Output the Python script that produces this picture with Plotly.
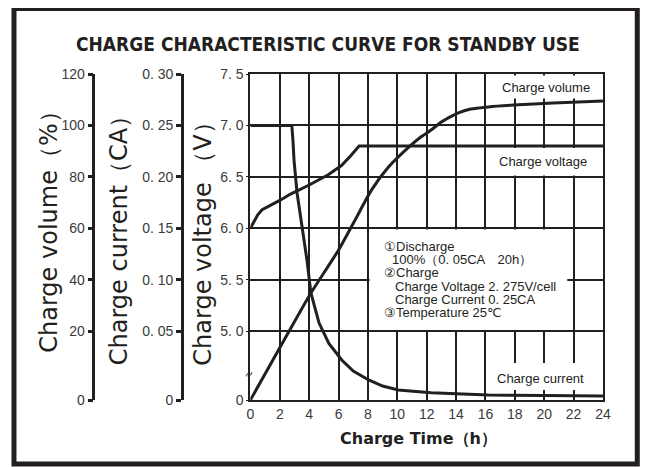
import numpy as np
import plotly.graph_objects as go

# ---------------- data ----------------
t_volume = [0, 2.64, 4.12, 6.0, 7.2, 8.25, 9.4, 10.95, 11.6, 12.3, 13.0, 13.7, 14.2, 15.0, 16.2, 17.9, 20.6, 24]
volume_pct = [0, 20, 34.8, 51.5, 64.0, 74.9, 83.8, 92.4, 95.5, 98.2, 101.3, 103.6, 105.0, 106.4, 107.2, 107.9, 108.7, 109.5]

t_voltage = [0, 0.25, 0.5, 0.8, 1.5, 2.0, 2.7, 4.0, 5.3, 6.2, 6.8, 7.4, 24]
voltage_v = [6.00, 6.07, 6.13, 6.18, 6.23, 6.27, 6.33, 6.42, 6.52, 6.61, 6.70, 6.80, 6.80]

t_current = [0, 2.82, 2.90, 2.97, 3.18, 3.52, 3.85, 4.12, 4.67, 5.34, 6.22, 7.0, 8.05, 9.0, 10.07, 12.3, 14.0, 16.2, 20.0, 24]
current_ca = [0.25, 0.25, 0.235, 0.216, 0.184, 0.151, 0.119, 0.087, 0.058, 0.041, 0.029, 0.021, 0.0145,
              0.0101, 0.0072, 0.0052, 0.0045, 0.0036, 0.0032, 0.0029]

x_ticks = list(range(0, 25, 2))
volume_ticks = [0, 20, 40, 60, 80, 100, 120]
volume_tick_labels = ["0", "20", "40", "60", "80", "100", "120"]
current_ticks = [0, 0.05, 0.10, 0.15, 0.20, 0.25, 0.30]
current_tick_labels = ["0", "0. 05", "0. 10", "0. 15", "0. 20", "0. 25", "0. 30"]
voltage_ticks = [0, 5.0, 5.5, 6.0, 6.5, 7.0, 7.5]
voltage_tick_labels = ["0", "5. 0", "5. 5", "6. 0", "6. 5", "7. 0", "7. 5"]

# ---------------- broken value axes (gap between 0 and first tick) ----------------
G0 = -0.342   # grid position of the "0" tick (axis break below first tick)


def to_grid(vals, ticks):
    return np.interp(vals, [ticks[0], ticks[1], ticks[-1]], [G0, 1, len(ticks) - 1])


# ---------------- geometry (page has an 8px body margin) ----------------
OFF = 8
W, H = 642, 459
ML, MT = 0, 74 - OFF
PLOT_R, PLOT_B = 603 - OFF, 400 - OFF
MR, MB = W - PLOT_R, H - PLOT_B
PW, PH = W - ML - MR, H - MT - MB
PLOT_LEFT = 248


def px(x):          # screen x -> paper
    return (x - OFF - ML) / PW


def py(y):          # screen y -> paper
    return (MT + PH - (y - OFF)) / PH


INK = "#231f20"
TICKC = "#3a3a3a"
SANS = "Liberation Sans, Arial, sans-serif"
WIDE = "DejaVu Sans, Verdana, sans-serif"

fig = go.Figure()
fig.add_trace(go.Scatter(x=t_volume, y=to_grid(volume_pct, volume_ticks), yaxis="y2",
                         mode="lines", line=dict(color=INK, width=3, shape="spline", smoothing=0.6),
                         name="Charge volume", hoverinfo="skip"))
fig.add_trace(go.Scatter(x=t_current, y=to_grid(current_ca, current_ticks), yaxis="y3",
                         mode="lines", line=dict(color=INK, width=3), name="Charge current",
                         hoverinfo="skip"))
fig.add_trace(go.Scatter(x=t_voltage, y=to_grid(voltage_v, voltage_ticks), yaxis="y",
                         mode="lines", line=dict(color=INK, width=3), name="Charge voltage",
                         hoverinfo="skip"))

yr = [G0, len(voltage_ticks) - 1]
side_axis = dict(overlaying="y", anchor="free", side="left", range=yr, showgrid=False,
                 zeroline=False, showline=True, linecolor=INK, linewidth=2.5,
                 ticks="outside", ticklen=5, tickwidth=2.5, tickcolor=INK,
                 tickfont=dict(family=SANS, size=14, color=TICKC))

fig.update_layout(
    width=W, height=H, margin=dict(l=ML, r=MR, t=MT, b=MB),
    paper_bgcolor="white", plot_bgcolor="white", showlegend=False,
    xaxis=dict(domain=[px(PLOT_LEFT), 1], range=[0, 24], tickvals=x_ticks,
               showgrid=True, gridcolor=INK, gridwidth=2, zeroline=False,
               showline=True, linecolor=INK, linewidth=2, mirror=True, ticks="",
               tickfont=dict(family=SANS, size=14, color=TICKC)),
    yaxis=dict(range=yr, tickvals=to_grid(voltage_ticks, voltage_ticks), ticktext=voltage_tick_labels,
               showgrid=True, gridcolor=INK, gridwidth=2, zeroline=False,
               showline=True, linecolor=INK, linewidth=2, mirror=True,
               ticks="outside", ticklen=2, tickcolor=INK,
               tickfont=dict(family=SANS, size=14, color=TICKC)),
    yaxis2=dict(position=px(90), tickvals=to_grid(volume_ticks, volume_ticks),
                ticktext=volume_tick_labels, **side_axis),
    yaxis3=dict(position=px(179), tickvals=to_grid(current_ticks, current_ticks),
                ticktext=current_tick_labels, **side_axis),
)

shapes = []
# white boxes hiding the grid behind the labels (no curve passes through them)
for (x0, x1, y0, y1) in [(487, 601.5, 75.5, 98.5), (487, 601.5, 148, 175.5), (487, 601.5, 363, 390),
                         (368, 567, 229.5, 330)]:
    shapes.append(dict(type="rect", xref="paper", yref="paper", x0=px(x0), x1=px(x1),
                       y0=py(y1), y1=py(y0), fillcolor="white", line=dict(width=0),
                       layer="above"))
# outer frame
shapes.append(dict(type="rect", xref="paper", yref="paper", x0=px(10), x1=px(637.5),
                   y0=py(464), y1=py(8.5), line=dict(color=INK, width=5), layer="above"))
fig.update_layout(shapes=shapes)

ann = []


def text(x, y, s, size, family=SANS, color=INK, xanchor="left", angle=0, bold=False):
    if bold:
        s = "<b>" + s + "</b>"
    ann.append(dict(x=px(x), y=py(y), xref="paper", yref="paper", text=s, showarrow=False,
                    xanchor=xanchor, yanchor="middle", textangle=angle, borderpad=0,
                    font=dict(family=family, size=size, color=color)))


text(326, 44, "CHARGE CHARACTERISTIC CURVE FOR STANDBY USE", 19,
     family="DejaVu Sans Condensed, Liberation Sans Narrow, sans-serif",
     xanchor="center", bold=True)
text(45, 226, "Charge volume（%）", 24, family=WIDE, xanchor="center", angle=-90)
text(116, 234, "Charge current（CA）", 24, family=WIDE, xanchor="center", angle=-90)
text(200, 238, "Charge voltage （V）", 24, family=WIDE, xanchor="center", angle=-90)
text(337, 438, "Charge Time（h）", 16, family=WIDE, xanchor="left", bold=True)

text(500, 88, "Charge volume", 13)
text(497, 161, "Charge voltage", 13)
text(495, 378, "Charge current", 13)

notes = [(382, 246, "①Discharge"), (390, 259, "100%（0. 05CA　20h）"), (382, 272, "②Charge"),
         (393, 286, "Charge Voltage 2. 275V/cell"), (393, 299, "Charge Current 0. 25CA"),
         (382, 312, "③Temperature 25℃")]
for x, y, s in notes:
    text(x, y, s, 13)

text(246, 374, "≈", 13, xanchor="center", angle=-60)

fig.update_layout(annotations=ann)
fig.write_html("out.html")
